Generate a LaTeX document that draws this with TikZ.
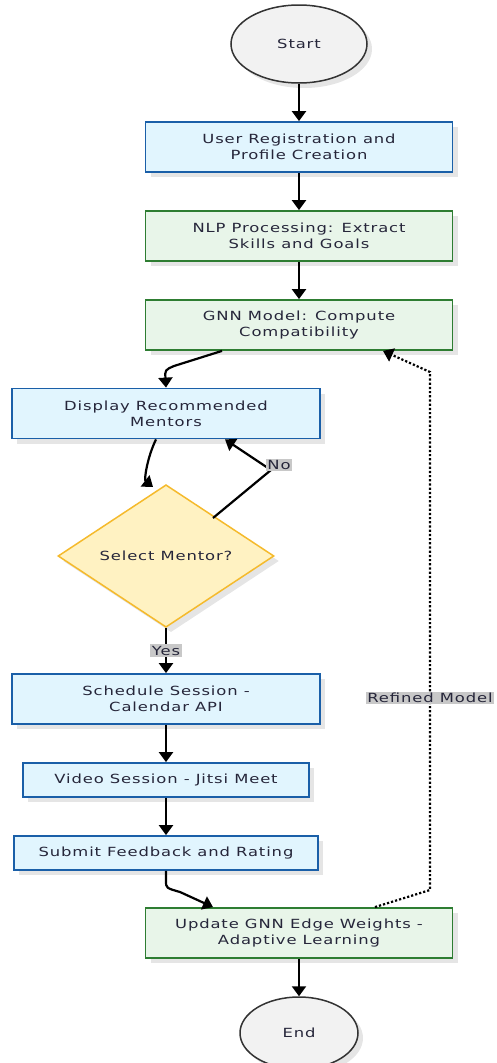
\documentclass[tikz,border=0pt]{standalone}
\usepackage{fontspec}
\newfontfamily\chartfont{DejaVu Sans}[FakeStretch=1.3,LetterSpace=7]
\usetikzlibrary{shapes,arrows.meta,positioning,shadows}
\definecolor{procfill}{HTML}{E1F5FE}
\definecolor{procline}{HTML}{1A5FA8}
\definecolor{modelfill}{HTML}{E8F5E9}
\definecolor{modelline}{HTML}{2E7D32}
\definecolor{choicefill}{HTML}{FFF2C2}
\definecolor{choiceline}{HTML}{F5BA2C}
\definecolor{termfill}{HTML}{F2F2F2}
\definecolor{termline}{HTML}{333333}
\definecolor{txt}{HTML}{26263A}
\definecolor{taggray}{HTML}{C8C8C8}
\def\labelfont{\chartfont\fontsize{12.6}{16}\selectfont}
\tikzstyle{boxshadow} = [drop shadow={shadow xshift=5pt,shadow yshift=-5pt,fill=black!10,opacity=1}]
\tikzstyle{proc} = [draw=procline,fill=procfill,line width=1.8pt,rectangle,inner sep=0,minimum width=307pt,minimum height=50pt,font=\labelfont,text=txt,align=center,boxshadow]
\tikzstyle{model} = [proc,draw=modelline,fill=modelfill]
\tikzstyle{choice} = [draw=choiceline,fill=choicefill,line width=1.5pt,diamond,inner sep=0,minimum width=216pt,minimum height=122pt,font=\labelfont,text=txt,boxshadow]
\tikzstyle{term} = [draw=termline,fill=termfill,line width=1.5pt,ellipse,inner sep=0,font=\labelfont,text=txt,boxshadow]
\tikzstyle{flow} = [-{Triangle[width=14pt,length=10pt]},line width=2.2pt,black]
\tikzstyle{loopback} = [flow,dotted]
\tikzstyle{tag} = [fill=taggray,inner sep=1.5pt,font=\labelfont,text=txt]

\begin{document}
\begin{tikzpicture}[x=1pt,y=-1pt]
  \useasboundingbox (0,0) rectangle (497,1063);
  % nodes
  \node[term,minimum width=136pt,minimum height=78pt] (start) at (299,44) {Start};
  \node[proc] (reg) at (299,147) {User Registration and\\Profile Creation};
  \node[model] (nlp) at (299,236) {NLP Processing: Extract\\Skills and Goals};
  \node[model] (gnn) at (299,325) {GNN Model: Compute\\Compatibility};
  \node[proc,minimum width=308pt] (show) at (166,413.5) {Display Recommended\\Mentors};
  \node[choice] (pick) at (166,556) {Select Mentor?};
  \node[proc,minimum width=308pt] (sched) at (166,699) {Schedule Session -\\Calendar API};
  \node[proc,minimum width=286pt,minimum height=34pt] (video) at (166,780) {Video Session - Jitsi Meet};
  \node[proc,minimum width=304pt,minimum height=34pt] (rate) at (166,853) {Submit Feedback and Rating};
  \node[model] (upd) at (299,933) {Update GNN Edge Weights -\\Adaptive Learning};
  \node[term,minimum width=118pt,minimum height=72pt] (stop) at (299,1033) {End};
  \coordinate (bend1) at (174,366);
  \coordinate (nocorner) at (271,470);
  \coordinate (bend2) at (180,892);
  \coordinate (rtop) at (430,372);
  \coordinate (rbot) at (430,890);
  % connectors
  \draw[flow] (start) -- (reg);
  \draw[flow] (reg) -- (nlp);
  \draw[flow] (nlp) -- (gnn);
  \draw[flow] ([xshift=-77pt]gnn.south) -- (bend1) .. controls (165,370) .. (show.north);
  \draw[flow] ([xshift=-10pt]show.south) .. controls (147,458) and (144,480) .. ([xshift=-13pt,yshift=-3pt]pick.north);
  \draw[flow] ([xshift=47pt,yshift=38pt]pick.center) -- (nocorner) -- ([xshift=59pt]show.south);
  \node[tag] (notag) at (279,465) {No};
  \draw[flow] (pick) -- (sched) node[tag,midway] (yestag) {Yes};
  \draw[flow] (sched) -- (video);
  \draw[flow] (video) -- (rate);
  \draw[flow] (rate.south) -- ++(0,10) .. controls (166,888) .. (bend2) -- ([xshift=-86pt]upd.north);
  \draw[flow] (upd) -- (stop);
  \draw[loopback] ([xshift=76pt]upd.north) -- (rbot) -- (rtop) -- ([xshift=84pt]gnn.south);
  \node[tag] (reftag) at (430,698) {Refined Model};
\end{tikzpicture}
\end{document}
